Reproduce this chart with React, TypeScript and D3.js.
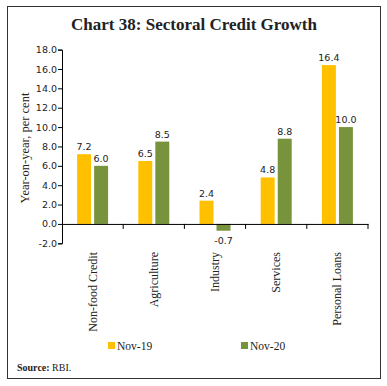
import { useEffect, useRef } from "react";
import * as d3 from "d3";

const categories = ["Non-food Credit", "Agriculture", "Industry", "Services", "Personal Loans"];
const seriesNames = ["Nov-19", "Nov-20"];
const nov19 = [7.2, 6.5, 2.4, 4.8, 16.4];
const nov20 = [6.0, 8.5, -0.7, 8.8, 10.0];
const yTicks = [-2, 0, 2, 4, 6, 8, 10, 12, 14, 16, 18];
const colors = ["#FFC000", "#77933C"];

// plain hyphen for negatives, like the original
const fmt = (v: number) => d3.format(".1f")(v).replace("\u2212", "-");

export default function App() {
  const svgRef = useRef<SVGSVGElement>(null);

  useEffect(() => {
    const width = 387,
      height = 386;

    // plot area
    const marginLeft = 62,
      marginRight = 19,
      yTop = 49.6,
      yBottom = 243.3;

    const svg = d3.select(svgRef.current).attr("width", width).attr("height", height);
    svg.selectAll("*").remove();

    // outer frame
    svg
      .append("rect")
      .attr("x", 7.5)
      .attr("y", 6.5)
      .attr("width", 373)
      .attr("height", 372)
      .attr("fill", "white")
      .attr("stroke", "#333")
      .attr("stroke-width", 1);

    // title
    svg
      .append("text")
      .attr("x", 194)
      .attr("y", 30)
      .attr("text-anchor", "middle")
      .style("font-family", "'Liberation Serif', serif")
      .style("font-weight", "bold")
      .style("font-size", "17px")
      .attr("fill", "#222")
      .text("Chart 38: Sectoral Credit Growth");

    const x0 = d3
      .scaleBand()
      .domain(categories)
      .range([marginLeft, width - marginRight])
      .padding(0);

    const bw = x0.bandwidth();
    const x1 = d3
      .scaleBand()
      .domain(seriesNames)
      .range([bw / 2 - 15.5, bw / 2 + 15.5])
      .paddingInner(0.18);

    const y = d3.scaleLinear().domain([-2, 18]).range([yBottom, yTop]);

    // y axis
    const yAxis = svg
      .append("g")
      .attr("transform", `translate(${marginLeft},0)`)
      .call(
        d3
          .axisLeft(y)
          .tickValues(yTicks)
          .tickFormat((d) => fmt(+d))
          .tickSize(4)
          .tickSizeOuter(4)
      );
    yAxis.select(".domain").attr("stroke", "#000");
    yAxis.selectAll(".tick line").attr("stroke", "#000");
    yAxis
      .selectAll("text")
      .attr("x", -5)
      .style("font-family", "'DejaVu Sans', sans-serif")
      .style("font-size", "9.5px")
      .attr("fill", "#222");

    // y title
    svg
      .append("text")
      .attr("transform", `translate(29,148) rotate(-90)`)
      .attr("text-anchor", "middle")
      .style("font-family", "'Liberation Serif', serif")
      .style("font-size", "12.5px")
      .attr("fill", "#222")
      .text("Year-on-year, per cent");

    // bars
    const rows = categories.map((c, i) => ({ cat: c, vals: [nov19[i], nov20[i]] }));
    const groups = svg
      .append("g")
      .selectAll("g")
      .data(rows)
      .join("g")
      .attr("transform", (d) => `translate(${x0(d.cat)},0)`);

    groups
      .selectAll("rect")
      .data((d) => d.vals.map((v, j) => ({ v, s: seriesNames[j], j })))
      .join("rect")
      .attr("x", (d) => x1(d.s)!)
      .attr("y", (d) => y(Math.max(0, d.v)))
      .attr("width", x1.bandwidth())
      .attr("height", (d) => Math.abs(y(d.v) - y(0)))
      .attr("fill", (d) => colors[d.j]);

    groups
      .selectAll("text")
      .data((d) => d.vals.map((v, j) => ({ v, s: seriesNames[j] })))
      .join("text")
      .attr("x", (d) => x1(d.s)! + x1.bandwidth() / 2)
      .attr("y", (d) => (d.v >= 0 ? y(d.v) - 4 : y(d.v) + 13))
      .attr("text-anchor", "middle")
      .style("font-family", "'DejaVu Sans', sans-serif")
      .style("font-size", "9.5px")
      .attr("fill", "#222")
      .text((d) => fmt(d.v));

    // zero line with category ticks
    const xAxis = svg
      .append("g")
      .attr("transform", `translate(0,${y(0)})`)
      .call(d3.axisBottom(x0).tickValues([]).tickSizeOuter(0));
    xAxis.select(".domain").attr("stroke", "#000");
    const bounds = [...categories.map((c) => x0(c)!), width - marginRight];
    xAxis
      .selectAll("line.sep")
      .data(bounds.slice(1))
      .join("line")
      .attr("class", "sep")
      .attr("x1", (d) => d)
      .attr("x2", (d) => d)
      .attr("y1", 0)
      .attr("y2", 5)
      .attr("stroke", "#000");

    // category labels
    svg
      .append("g")
      .selectAll("text")
      .data(categories)
      .join("text")
      .attr("transform", (d) => `translate(${x0(d)! + bw / 2 + 4},252) rotate(-90)`)
      .attr("text-anchor", "end")
      .style("font-family", "'Liberation Serif', serif")
      .style("font-size", "12px")
      .attr("fill", "#222")
      .text((d) => d);

    // legend
    const legendX = [108, 241];
    const legend = svg
      .append("g")
      .selectAll("g")
      .data(seriesNames)
      .join("g")
      .attr("transform", (_, i) => `translate(${legendX[i]},342)`);
    legend
      .append("rect")
      .attr("width", 7)
      .attr("height", 7)
      .attr("fill", (_, i) => colors[i]);
    legend
      .append("text")
      .attr("x", 9)
      .attr("y", 7.5)
      .style("font-family", "'Liberation Serif', serif")
      .style("font-size", "11.5px")
      .attr("fill", "#222")
      .text((d) => d);

    // source
    const src = svg
      .append("text")
      .attr("x", 17)
      .attr("y", 371)
      .style("font-family", "'Liberation Serif', serif")
      .style("font-size", "10px")
      .attr("fill", "#222");
    src.append("tspan").style("font-weight", "bold").text("Source: ");
    src.append("tspan").text("RBI.");
  }, []);

  return (
    <div style={{ position: "absolute", left: 0, top: 0 }}>
      <svg ref={svgRef}></svg>
    </div>
  );
}
